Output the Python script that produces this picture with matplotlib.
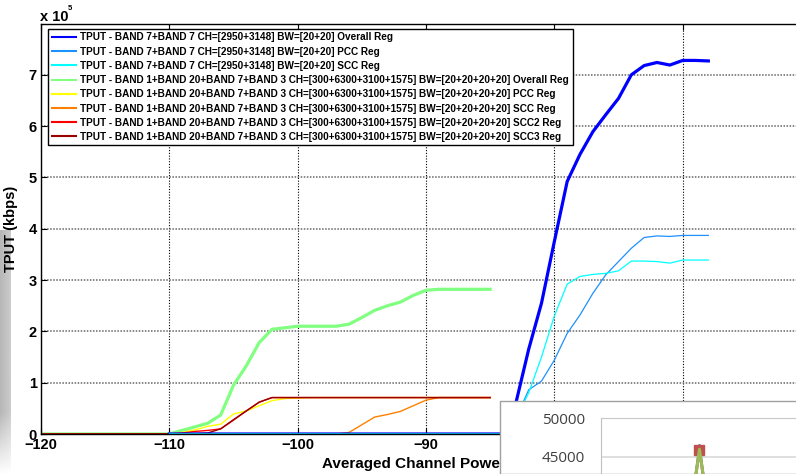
import numpy as np
import matplotlib
matplotlib.use("Agg")
from matplotlib import pyplot as plt
from matplotlib.patches import Rectangle
from matplotlib.ticker import FuncFormatter

plt.rcParams['font.family'] = ['Liberation Sans', 'DejaVu Sans']
plt.rcParams['font.weight'] = 'bold'
plt.rcParams['axes.labelweight'] = 'bold'

# ---- data (kbps) ----
# 4CA: BAND 1+20+7+3, measured from -120 to -85 dBm
x_4ca = np.arange(-120, -84)
ca4_overall = [0]*11 + [7e3, 14e3, 21e3, 37e3, 95e3, 133e3, 178e3, 204e3, 207e3, 210e3,
                        210e3, 210e3, 210e3, 214e3, 227e3, 241e3, 250e3, 257e3, 270e3,
                        280e3, 282e3, 282e3, 282e3, 282e3, 282e3]
ca4_pcc = [0]*11 + [3e3, 8e3, 15e3, 19e3, 39e3, 45e3, 55e3, 65e3, 69e3, 70e3] + [71e3]*15
ca4_scc = [0]*24 + [3e3, 18e3, 33e3, 38e3, 44e3, 55e3, 66e3, 71e3, 71e3, 71e3, 71e3, 71e3]
ca4_scc2 = [0]*11 + [2e3, 5e3, 7e3, 10e3, 27e3, 45e3, 62e3] + [71e3]*18
ca4_scc3 = [0]*11 + [0, 1e3, 2e3, 10e3, 28e3, 45e3, 62e3] + [71e3]*18

# 2CA: BAND 7+BAND 7, measured from -110 to -68 dBm
x_2ca = np.arange(-110, -67)
ca2_overall = [0]*27 + [60e3, 165e3, 255e3, 375e3, 492e3, 545e3, 589e3, 622e3, 654e3,
                        700e3, 718e3, 724e3, 719e3, 728e3, 728e3, 727e3]
ca2_pcc = [0]*27 + [30e3, 86e3, 103e3, 144e3, 196e3, 232e3, 274e3, 310e3, 336e3,
                    362e3, 383e3, 386e3, 385e3, 387e3, 387e3, 387e3]
ca2_scc = [0]*27 + [30e3, 80e3, 150e3, 230e3, 292e3, 307e3, 311e3, 313e3, 318e3,
                    337e3, 337e3, 336e3, 333e3, 339e3, 339e3, 339e3]

lbl_2ca = "TPUT - BAND 7+BAND 7 CH=[2950+3148] BW=[20+20] "
lbl_4ca = "TPUT - BAND 1+BAND 20+BAND 7+BAND 3 CH=[300+6300+3100+1575] BW=[20+20+20+20] "

# overlapping window (spreadsheet chart) in the corner
inset_x = [0, 1, 2]
inset_blue = [0, 46400, 0]
inset_red = [0, 45900, 0]
inset_green = [0, 46000, 0]

fig = plt.figure(figsize=(7.96, 4.74), dpi=100)
W, H = 796, 474

# grey strip at the left edge of the screenshot (behind everything)
sx = fig.add_axes([0, 0, 11/W, 244/H], zorder=-1)
grad = np.clip(np.linspace(0.0, 1.0, 244)[:, None] * 4, 0, 1) * np.ones((1, 11))
col = 0.72 + 0.08 * np.linspace(0, 1, 11)[None, :]
img = 1 - (1 - col) * grad[::-1]
sx.imshow(np.dstack([img]*3), aspect='auto', extent=(0, 1, 0, 1))
sx.axis('off')

ax = fig.add_axes([41/W, 40/H, 770/W, 410/H])
ax.patch.set_alpha(0)

# 4CA lines first so the 2CA lines sit on top along zero
l4 = []
for y, c, lw, name in [(ca4_overall, '#80ff80', 2.3, 'Overall Reg'),
                       (ca4_pcc, '#ffff00', 1.0, 'PCC Reg'),
                       (ca4_scc, '#ff8000', 1.0, 'SCC Reg'),
                       (ca4_scc2, '#ff0000', 1.0, 'SCC2 Reg'),
                       (ca4_scc3, '#990000', 1.0, 'SCC3 Reg')]:
    l4.append(ax.plot(x_4ca, y, color=c, lw=lw, label=lbl_4ca + name)[0])
l2 = []
for y, c, lw, name in [(ca2_overall, '#0000ff', 2.3, 'Overall Reg'),
                       (ca2_pcc, '#1e90ff', 0.9, 'PCC Reg'),
                       (ca2_scc, '#00ffff', 0.9, 'SCC Reg')]:
    l2.append(ax.plot(x_2ca, y, color=c, lw=lw, label=lbl_2ca + name)[0])

ax.set_xlim(-120, -60)
ax.set_ylim(0, 7.99e5)
ax.set_xticks(np.arange(-120, -59, 10))
ax.set_yticks(np.arange(0, 8e5, 1e5))
ax.yaxis.set_major_formatter(FuncFormatter(lambda v, p: f"{v/1e5:g}"))
ax.tick_params(direction='in', length=4, top=True, right=True, labelsize=10.5, pad=3)
ax.xaxis.grid(True, color='black', linestyle=(0, (1, 1.5)), lw=0.8)
ax.yaxis.grid(True, color='#666666', linestyle=(0, (1, 1)), lw=1.1)
for s in ax.spines.values():
    s.set_linewidth(1.0)

ax.set_ylabel('TPUT (kbps)', fontsize=10.5)
ax.yaxis.set_label_coords((18 - 41) / 770, 0.5)
ax.set_xlabel('Averaged Channel Power (dBm)', fontsize=11, ha='left')
ax.xaxis.set_label_coords((322 - 41) / 770, -0.055)

fig.text(40/W, 1 - 21/H, 'x 10', fontsize=10.5, ha='left', va='baseline')
fig.text(68/W, 1 - 10/H, '5', fontsize=5.5, ha='left', va='baseline')

leg = ax.legend(handles=l2 + l4, loc='upper left', bbox_to_anchor=(48/W, 1 - 29/H),
                bbox_transform=fig.transFigure, fontsize=7.2, frameon=True, fancybox=False,
                edgecolor='black', framealpha=1, borderaxespad=0, borderpad=0.35,
                handlelength=2.4, handletextpad=0.5, labelspacing=0.42)
leg.get_frame().set_linewidth(1.0)
for h in leg.get_lines():
    h.set_linewidth(1.5)

# overlapping window
fig.patches.append(Rectangle((500/W, 0), 300/W, 73/H, transform=fig.transFigure,
                             facecolor='white', edgecolor='#a0a0a0', lw=1.0, zorder=5))
ix = fig.add_axes([601/W, 0, 200/W, 56/H], zorder=6)
ix.patch.set_alpha(0)
ix.plot(inset_x, inset_blue, color='#4f81bd', lw=1.5, marker='D', ms=2)
ix.plot(inset_x, inset_red, color='#c0504d', lw=2.0, marker='s', ms=6.5)
ix.plot(inset_x, inset_green, color='#9bbb59', lw=2.2)
ix.set_xlim(-0.94, 3.0)
ix.set_ylim(42820, 50000)
ix.set_yticks([45000, 50000])
ix.set_yticklabels(['45000', '50000'], family='Open Sans', fontweight='normal',
                   fontsize=11, color='#404040')
ix.set_xticks([])
ix.tick_params(axis='y', length=0, pad=11.5)
ix.yaxis.grid(True, color='#d9d9d9', lw=1.2)
for k in ['right', 'bottom']:
    ix.spines[k].set_visible(False)
ix.spines['left'].set_color('#c0c0c0')
ix.spines['top'].set_color('#c8c8c8')

fig.savefig('out.png', dpi=100)
